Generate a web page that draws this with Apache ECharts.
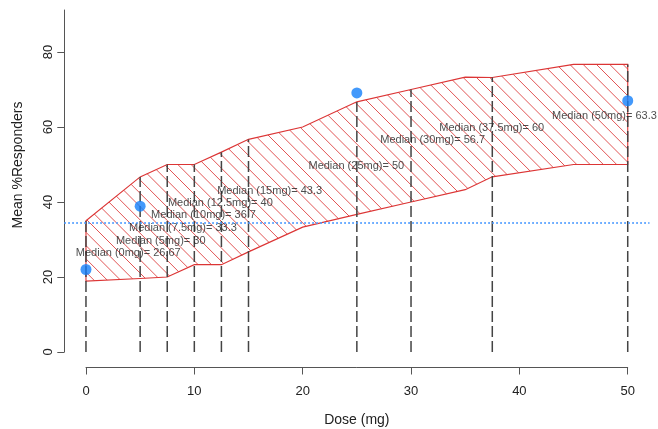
<!DOCTYPE html>
<html><head><meta charset="utf-8">
<script src="https://cdn.jsdelivr.net/npm/echarts@6/dist/echarts.min.js"></script>
<style>html,body{margin:0;padding:0;background:#fff}#c{width:658px;height:429px}</style>
</head><body><div id="c"></div>
<script>
// ---- data ----
const upperDose = [0, 5, 7.5, 10, 12.5, 15, 20, 25, 30, 35, 37.5, 45, 50];
const upperVal  = [35, 46.7, 50, 50, 53.3, 56.7, 60, 66.7, 70, 73.3, 73.2, 76.7, 76.7];
const lowerDose = [0, 5, 7.5, 10, 12.5, 15, 20, 25, 30, 35, 37.5, 45, 50];
const lowerVal  = [18.9, 19.6, 20, 23.3, 23.3, 26.7, 33.3, 36.7, 40, 43.3, 46.7, 50, 50];
const medianDose = [0, 5, 7.5, 10, 12.5, 15, 25, 30, 37.5, 50];
const medianVal  = [26.67, 30, 33.3, 36.7, 40, 43.3, 50, 56.7, 60, 63.3];
const medianLabelDose = [3.9, 6.9, 8.95, 10.85, 12.4, 16.95, 24.95, 32, 37.45, 47.85];
const obsDose = [0, 5, 25, 50];
const obsVal  = [22, 38.9, 69.1, 67];
const refLevel = 34.5;
const yTicks = [0, 20, 40, 60, 80];
const xTickStep = 10;

const FONT = "'Liberation Sans', Arial, sans-serif";

function upperAt(d) {
  for (let i = 0; i < upperDose.length - 1; i++) {
    if (d >= upperDose[i] && d <= upperDose[i + 1]) {
      const t = (d - upperDose[i]) / (upperDose[i + 1] - upperDose[i]);
      return upperVal[i] + t * (upperVal[i + 1] - upperVal[i]);
    }
  }
  return upperVal[upperVal.length - 1];
}

// hatch segments (45deg, "\" direction) clipped to a polygon given in pixels
function hatchSegments(pts, step) {
  const xs = pts.map(p => p[0]), ys = pts.map(p => p[1]);
  const minX = Math.min(...xs), maxX = Math.max(...xs);
  const minY = Math.min(...ys), maxY = Math.max(...ys);
  const segs = [];
  const c0 = Math.floor((minX - maxY) / step) * step;
  for (let c = c0; c <= maxX - minY; c += step) {
    const hits = [];
    for (let i = 0; i < pts.length; i++) {
      const p = pts[i], q = pts[(i + 1) % pts.length];
      const fp = p[0] - p[1] - c, fq = q[0] - q[1] - c;
      if ((fp > 0) !== (fq > 0)) {
        const t = fp / (fp - fq);
        hits.push([p[0] + t * (q[0] - p[0]), p[1] + t * (q[1] - p[1])]);
      }
    }
    hits.sort((a, b) => a[0] - b[0]);
    for (let k = 0; k + 1 < hits.length; k += 2) segs.push([hits[k], hits[k + 1]]);
  }
  return segs;
}

const chart = echarts.init(document.getElementById('c'), null, {renderer: 'canvas'});
chart.setOption({
  animation: false,
  backgroundColor: '#fff',
  grid: [
    {left: 64.3, right: 8.6, top: 10, bottom: 77, containLabel: false, outerBoundsMode: 'none'},
    {left: 86, right: 30.3, top: 10, bottom: 61.5, containLabel: false, outerBoundsMode: 'none'}
  ],
  xAxis: [
    {gridIndex: 0, type: 'value', min: -2, max: 52, show: false},
    {gridIndex: 1, type: 'value', min: 0, max: 50, interval: xTickStep,
     axisLine: {onZero: false, lineStyle: {color: '#555', width: 1}},
     axisTick: {length: 7, lineStyle: {color: '#555'}},
     axisLabel: {margin: 17, fontSize: 13, color: '#222', fontFamily: FONT},
     splitLine: {show: false},
     name: 'Dose (mg)', nameLocation: 'middle', nameGap: 46,
     nameTextStyle: {fontSize: 14, color: '#222', fontFamily: FONT}}
  ],
  yAxis: [
    {gridIndex: 0, type: 'value', min: 0, max: 91.2,
     axisLine: {show: true, onZero: false, lineStyle: {color: '#555', width: 1}},
     axisTick: {show: true, length: 7, customValues: yTicks, lineStyle: {color: '#555'}},
     axisLabel: {customValues: yTicks, rotate: 90, margin: 9, fontSize: 13, color: '#222', fontFamily: FONT},
     splitLine: {show: false}},
    {gridIndex: 1, type: 'value', min: 0, max: 100, show: false}
  ],
  graphic: [
    {type: 'text', x: 18, y: 165, rotation: Math.PI / 2,
     style: {text: 'Mean %Responders', fontSize: 14, fontFamily: FONT, fill: '#222',
             align: 'center', verticalAlign: 'middle', textAlign: 'center', textVerticalAlign: 'middle'}}
  ],
  series: [
    {type: 'custom', xAxisIndex: 0, yAxisIndex: 0, data: [[0, 0]], silent: true, z: 1,
     renderItem: function (params, api) {
       const pts = [];
       for (let i = 0; i < upperDose.length; i++) pts.push(api.coord([upperDose[i], upperVal[i]]));
       for (let i = lowerDose.length - 1; i >= 0; i--) pts.push(api.coord([lowerDose[i], lowerVal[i]]));
       const children = hatchSegments(pts, 13.3).map(s => ({
         type: 'line', shape: {x1: s[0][0], y1: s[0][1], x2: s[1][0], y2: s[1][1]},
         style: {stroke: '#e25555', lineWidth: 1}
       }));
       children.push({type: 'polygon', shape: {points: pts},
                      style: {fill: null, stroke: '#dc3535', lineWidth: 1.1}});
       return {type: 'group', children: children};
     }},
    {type: 'custom', xAxisIndex: 0, yAxisIndex: 0, silent: true, z: 2,
     data: medianDose.map(d => [d, upperAt(d)]),
     renderItem: function (params, api) {
       const p0 = api.coord([api.value(0), 0]);
       const p1 = api.coord([api.value(0), api.value(1)]);
       return {type: 'line', shape: {x1: p0[0], y1: p0[1], x2: p1[0], y2: p1[1]},
               style: {stroke: '#444', lineWidth: 1.5, lineDash: [11, 4]}};
     }},
    {type: 'scatter', xAxisIndex: 0, yAxisIndex: 0, silent: true, z: 3,
     symbolSize: 1, itemStyle: {color: 'rgba(0,0,0,0)'},
     data: medianLabelDose.map((d, i) => [d, medianVal[i], medianDose[i]]),
     label: {show: true, position: 'inside', offset: [0, 1], fontSize: 11, color: '#222', fontFamily: FONT,
             formatter: p => 'Median (' + p.value[2] + 'mg)= ' + p.value[1]}},
    {type: 'scatter', xAxisIndex: 0, yAxisIndex: 0, silent: true, z: 5,
     symbolSize: 11, itemStyle: {color: '#1480fa'},
     data: obsDose.map((d, i) => [d, obsVal[i]]),
     markLine: {silent: true, symbol: 'none', label: {show: false},
                lineStyle: {color: '#4a9aff', width: 2, type: [1.5, 2.5]},
                data: [{yAxis: refLevel}]}},
    {type: 'line', xAxisIndex: 1, yAxisIndex: 1, data: [], silent: true}
  ]
});
</script></body></html>
